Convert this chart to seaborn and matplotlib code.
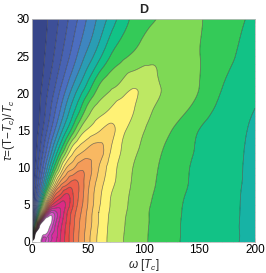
import numpy as np
import matplotlib
matplotlib.use("Agg")
import matplotlib.pyplot as plt
import matplotlib.tri as mtri
import seaborn as sns

# grid of the field (value = contour level index)
omega = [0, 4, 8, 12, 16, 20, 25, 30, 36, 43, 50, 60, 70, 80, 92, 105, 120, 135, 150, 170, 200]
tau = [0, 1, 2, 3, 4, 5, 6.5, 8, 10, 12.5, 15, 18, 21, 25, 30]

level_t0 = [30, 26, 23.1, 21.9, 21.2, 20.4, 19.1, 17.8, 16.3, 14.8, 13.4, 11.75, 10.78, 10.12, 9.54, 8.95, 8.42, 7.94, 7.66, 7.3, 6.75]
level_t1 = [-1.5, 27.5, 25.5, 22.9, 21.67, 20.67, 19.25, 17.88, 16.33, 14.82, 13.44, 11.78, 10.8, 10.13, 9.55, 8.96, 8.43, 7.95, 7.67, 7.31, 6.76]
level_t2 = [-1.5, 14.08, 25.4, 25.2, 22.9, 21.2, 19.43, 18.0, 16.44, 14.91, 13.6, 11.88, 10.83, 10.17, 9.57, 8.98, 8.45, 7.95, 7.67, 7.3, 6.75]
level_t3 = [-1.5, 7.43, 17.2, 23.7, 23.9, 22.0, 19.9, 18.29, 16.56, 15.0, 13.7, 11.94, 10.87, 10.2, 9.59, 9.0, 8.46, 7.96, 7.68, 7.31, 6.75]
level_t4 = [-1.5, 4.3, 10.94, 16.9, 21.2, 21.6, 20.17, 18.57, 16.78, 15.22, 13.8, 12.0, 10.93, 10.27, 9.62, 9.0, 8.48, 7.98, 7.7, 7.32, 6.75]
level_t5 = [-1.5, 2.9, 7.77, 12.6, 16.99, 18.56, 19.5, 19.0, 17.33, 15.5, 14.0, 12.17, 11.0, 10.33, 9.67, 9.05, 8.52, 8.0, 7.71, 7.33, 6.75]
level_t6 = [-1.5, 1.68, 4.97, 8.65, 11.98, 15.18, 16.7, 17.96, 17.22, 15.75, 14.11, 12.31, 11.11, 10.4, 9.73, 9.14, 8.59, 8.07, 7.74, 7.34, 6.75]
level_t8 = [-1.5, 0.93, 3.3, 6.02, 8.74, 11.26, 14.07, 15.24, 16.3, 15.7, 14.35, 12.57, 11.4, 10.57, 9.82, 9.23, 8.66, 8.14, 7.78, 7.37, 6.77]
level_t10 = [-1.5, 0.33, 2.11, 4.06, 6.16, 8.15, 10.51, 12.69, 13.71, 14.7, 14.5, 13.0, 11.6, 10.71, 9.91, 9.32, 8.71, 8.18, 7.79, 7.38, 6.78]
level_t12 = [-1.5, -0.14, 1.19, 2.54, 4.07, 5.63, 7.48, 9.24, 11.29, 12.44, 13.13, 13.4, 12.14, 11.0, 10.2, 9.55, 8.89, 8.33, 7.87, 7.43, 6.78]
level_t15 = [-1.5, -0.45, 0.57, 1.58, 2.69, 3.85, 5.35, 6.75, 8.34, 10.18, 11.14, 11.9, 12.29, 11.4, 10.5, 9.8, 9.2, 8.58, 7.98, 7.51, 6.82]
level_t18 = [-1.5, -0.67, 0.15, 0.95, 1.76, 2.67, 3.82, 5.04, 6.36, 7.83, 9.29, 10.4, 10.98, 11.58, 11.0, 10.19, 9.66, 9.23, 8.59, 7.75, 7.0]
level_t21 = [-1.5, -0.83, -0.15, 0.5, 1.15, 1.82, 2.77, 3.71, 4.89, 6.11, 7.32, 9.0, 9.77, 10.23, 10.9, 10.41, 9.88, 9.44, 9.0, 8.05, 7.2]
level_t25 = [-1.5, -0.98, -0.46, 0.06, 0.55, 1.05, 1.74, 2.46, 3.33, 4.4, 5.35, 6.68, 7.98, 8.72, 9.21, 9.74, 9.72, 9.37, 9.02, 8.39, 7.5]
level_t30 = [-1.5, -1.08, -0.64, -0.22, 0.2, 0.6, 1.11, 1.7, 2.4, 3.25, 4.12, 5.24, 6.33, 7.38, 8.29, 8.78, 9.27, 9.55, 9.1, 8.54, 7.8]

# one colour per band, lowest band first, white above the top line
band_colors = ["#37468a", "#3d4f98", "#4358a5", "#4863b3", "#4c6ec0", "#3e86c0",
               "#2a9db4", "#17b3a5", "#12c286", "#34ca58", "#7ed955", "#bde863",
               "#fff275", "#fbd46a", "#f8b862", "#f49c59", "#f07e51", "#ec614b",
               "#e84848", "#e23565", "#dc2a85", "#d62f9c", "#cc3cb4", "#d45cc8",
               "#ffffff"]

Z = np.array([level_t0, level_t1, level_t2, level_t3, level_t4, level_t5, level_t6,
              level_t8, level_t10, level_t12, level_t15, level_t18, level_t21,
              level_t25, level_t30])
W, T = np.meshgrid(omega, tau)

sns.set_style("ticks")
plt.rcParams["font.family"] = ["Liberation Sans", "DejaVu Sans"]
plt.rcParams["mathtext.fontset"] = "custom"
plt.rcParams["mathtext.rm"] = "Liberation Sans"
plt.rcParams["mathtext.it"] = "Liberation Sans:italic"

# smooth the coarse grid with matplotlib's own refiner (in unit-square coords)
tri_n = mtri.Triangulation(W.ravel() / 200.0, T.ravel() / 30.0)
refiner = mtri.UniformTriRefiner(tri_n)
interp = mtri.CubicTriInterpolator(tri_n, Z.ravel(), kind="min_E")
tri_f, z_f = refiner.refine_field(Z.ravel(), triinterpolator=interp, subdiv=4)
tri_p = mtri.Triangulation(tri_f.x * 200.0, tri_f.y * 30.0, tri_f.triangles)

lines = list(range(0, 24))
fill_levels = [-100] + lines + [100]

fig = plt.figure(figsize=(2.66, 2.73), dpi=100)
ax = fig.add_axes([0.120, 0.1136, 0.839, 0.817])
ax.tricontourf(tri_p, z_f, levels=fill_levels, colors=band_colors, antialiased=True)
ax.tricontour(tri_p, z_f, levels=lines, colors="#222222", linewidths=0.5, alpha=0.6)

ax.set_xlim(0, 200)
ax.set_ylim(0, 30)
ax.set_xticks([0, 50, 100, 150, 200])
ax.set_yticks([0, 5, 10, 15, 20, 25, 30])
ax.set_xticks(np.arange(0, 201, 10), minor=True)
ax.set_yticks(np.arange(0, 31, 1), minor=True)
ax.tick_params(which="both", direction="in", top=True, right=True,
               colors="#aaaaaa", labelcolor="black", labelsize=8.5, pad=1.5)
ax.tick_params(which="major", length=3, width=0.5)
ax.tick_params(which="minor", length=1.5, width=0.4)
for s in ax.spines.values():
    s.set_color("#bbbbbb")
    s.set_linewidth(0.6)

ax.set_xlabel(r"$\omega$ [$T_c$]", fontsize=8.5, labelpad=1)
ax.set_ylabel(r"$\tau$=(T$-T_c$)/$T_c$", fontsize=8.5, labelpad=0)
ax.set_title("D", fontsize=9, fontweight="bold", pad=4)

fig.savefig("out.png", dpi=100)
